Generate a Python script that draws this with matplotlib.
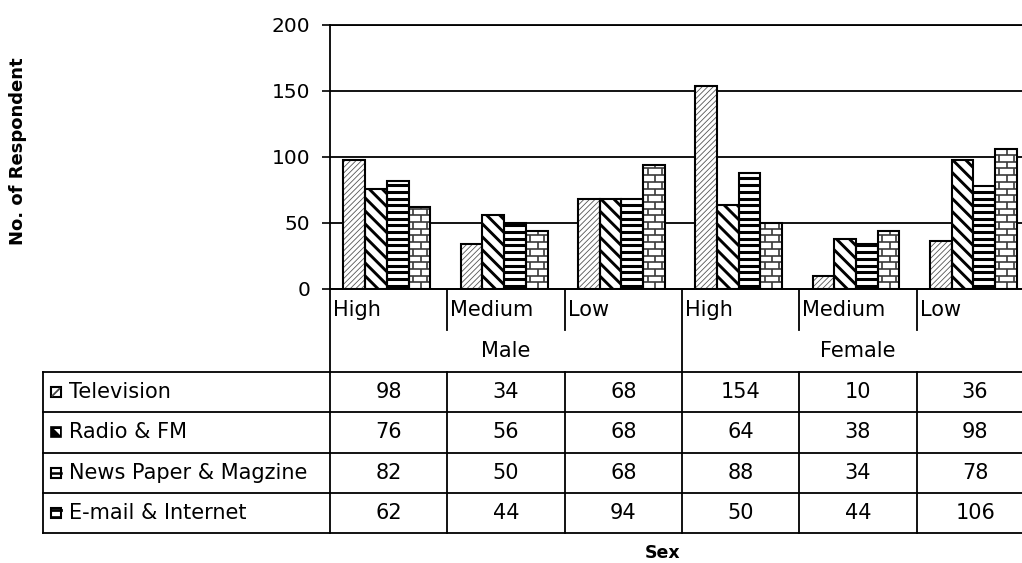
import matplotlib
matplotlib.use("Agg")
import numpy as np
import matplotlib.pyplot as plt
from matplotlib.patches import Rectangle, Polygon
from matplotlib.collections import LineCollection

plt.rcParams['font.family'] = ['DejaVu Sans']

# data
levels = ["High", "Medium", "Low", "High", "Medium", "Low"]
sexes = ["Male", "Female"]
series = ["Television", "Radio & FM", "News Paper & Magzine", "E-mail & Internet"]
television = [98, 34, 68, 154, 10, 36]
radio_fm = [76, 56, 68, 64, 38, 98]
newspaper = [82, 50, 68, 88, 34, 78]
email_internet = [62, 44, 94, 50, 44, 106]
values = [television, radio_fm, newspaper, email_internet]

W, H = 1022, 563
fig = plt.figure(figsize=(W / 100, H / 100), dpi=100)

# pixel geometry of the plot / table
x0, col_w = 330, 117.3
y0, y_top = 289, 25
sx = col_w                 # px per x unit
sy = (y0 - y_top) / 200.0  # px per y unit

ax = fig.add_axes([x0 / W, (H - y0) / H, 6 * col_w / W, (y0 - y_top) / H])
ax.set_xlim(0, 6)
ax.set_ylim(0, 200)
ax.set_yticks([0, 50, 100, 150, 200])
ax.set_xticks([])
ax.tick_params(axis='y', direction='out', length=6, width=1.2, pad=8, labelsize=14.5)
ax.yaxis.grid(True, color='black', linewidth=1.3)
ax.set_axisbelow(True)
ax.spines['right'].set_visible(False)
for s in ['left', 'bottom', 'top']:
    ax.spines[s].set_linewidth(1.3)


def pattern(bar, kind, step, color, lw):
    """fill pattern drawn in pixel space, clipped to the bar"""
    bx, bwid, bh = bar.get_x(), bar.get_width(), bar.get_height()
    wpx, hpx = bwid * sx, bh * sy
    segs = []
    if kind == 'h':
        for t in np.arange(step * 0.5, hpx, step):
            segs.append([(0, t), (wpx, t)])
    elif kind == 'back':
        for c in np.arange(0, hpx + wpx + step, step):
            segs.append([(-step, c + step), (wpx + step, c - wpx - step)])
    elif kind == 'brick':
        k = 0
        for t in np.arange(0, hpx, step):
            t2 = t + step
            segs.append([(0, t2), (wpx, t2)])
            xv = [0.55] if k % 2 == 0 else [0.2, 0.85]
            for f in xv:
                segs.append([(wpx * f, t), (wpx * f, t2)])
            k += 1
    segs = [[(bx + u / sx, t / sy) for u, t in s] for s in segs]
    lc = LineCollection(segs, colors=color, linewidths=lw, zorder=3)
    ax.add_collection(lc, autolim=False)
    lc.set_clip_path(bar)


bw = 0.185
n = len(levels)
for j, vals in enumerate(values):
    xs = [i + 0.5 + (j - 1.5) * bw - 0.015 for i in range(n)]
    if j == 0:
        with plt.rc_context({'hatch.linewidth': 0.6}):
            bars = ax.bar(xs, vals, width=bw, color='white', edgecolor='#555555',
                          linewidth=0, hatch='//////', zorder=2)
    else:
        bars = ax.bar(xs, vals, width=bw, color='white', linewidth=0, zorder=2)
        for b in bars:
            if j == 1:
                pattern(b, 'back', 13, 'black', 2.1)
            elif j == 2:
                pattern(b, 'h', 6.7, 'black', 2.2)
            else:
                pattern(b, 'brick', 6.7, '#3a3a3a', 1.2)
    ax.bar(xs, vals, width=bw, fill=False, edgecolor='black', linewidth=1.5, zorder=4)

# overlay for the data table, in pixel coordinates
ov = fig.add_axes([0, 0, 1, 1], zorder=-1)
ov.set_xlim(0, W)
ov.set_ylim(H, 0)
ov.axis('off')

lw = 1.3
x_right = x0 + 6 * col_w
row_h = 40.3
row_top = 372
rows_y = [row_top + i * row_h for i in range(5)]
legend_x = 43

cols = [x0 + i * col_w for i in range(7)]
ov.plot([x0, x_right], [y0, y0], color='black', lw=lw)
for ry in rows_y:
    ov.plot([legend_x, x_right], [ry, ry], color='black', lw=lw)
ov.plot([legend_x, legend_x], [rows_y[0], rows_y[-1]], color='black', lw=lw)
for i, cx in enumerate(cols[:6]):
    if i % 3 == 0:
        ov.plot([cx, cx], [y0, rows_y[-1]], color='black', lw=lw)
    else:
        ov.plot([cx, cx], [y0, 330], color='black', lw=lw)
        ov.plot([cx, cx], [rows_y[0], rows_y[-1]], color='black', lw=lw)

fs = 15
for i, lab in enumerate(levels):
    ov.text(cols[i] + 3, 310, lab, fontsize=fs, ha='left', va='center')
for g, sx_ in enumerate(sexes):
    ov.text(cols[g * 3] + 1.5 * col_w, 351, sx_, fontsize=fs, ha='center', va='center')

# legend keys
ix, isz = 51, 10
for j, name in enumerate(series):
    cy = rows_y[j] + row_h / 2
    top = cy - isz / 2
    if j == 1:
        ov.add_patch(Rectangle((ix, top), isz, isz, facecolor='black', edgecolor='black', lw=1.2))
        ov.add_patch(Polygon([(ix + 2.5, top + 1.5), (ix + isz - 1.5, top + 1.5),
                              (ix + isz - 1.5, top + isz - 2.5)], closed=True,
                             facecolor='white', edgecolor='none'))
    else:
        ov.add_patch(Rectangle((ix, top), isz, isz, facecolor='white', edgecolor='black', lw=1.5))
        if j == 0:
            ov.plot([ix + 1.5, ix + isz - 1.5], [top + isz - 1.5, top + 1.5], color='#444444', lw=1.3)
        elif j == 2:
            ov.plot([ix, ix + isz], [cy, cy], color='black', lw=1.8)
        else:
            ov.plot([ix, ix + isz], [top + 2, top + 2], color='black', lw=2.0)
            ov.plot([ix, ix + isz], [top + isz - 1.5, top + isz - 1.5], color='black', lw=1.2)
    ov.text(69, cy, name, fontsize=fs, ha='left', va='center')
    for i, v in enumerate(values[j]):
        ov.text(cols[i] + col_w / 2, cy, str(v), fontsize=fs, ha='center', va='center')

fig.text(663 / W, 1 - 553 / H, "Sex", fontsize=12.5, fontweight='bold', ha='center', va='center')
fig.text(18 / W, 1 - 151 / H, "No. of Respondent", fontsize=13, fontweight='bold',
         rotation=90, ha='center', va='center')

fig.savefig("out.png", dpi=100)
